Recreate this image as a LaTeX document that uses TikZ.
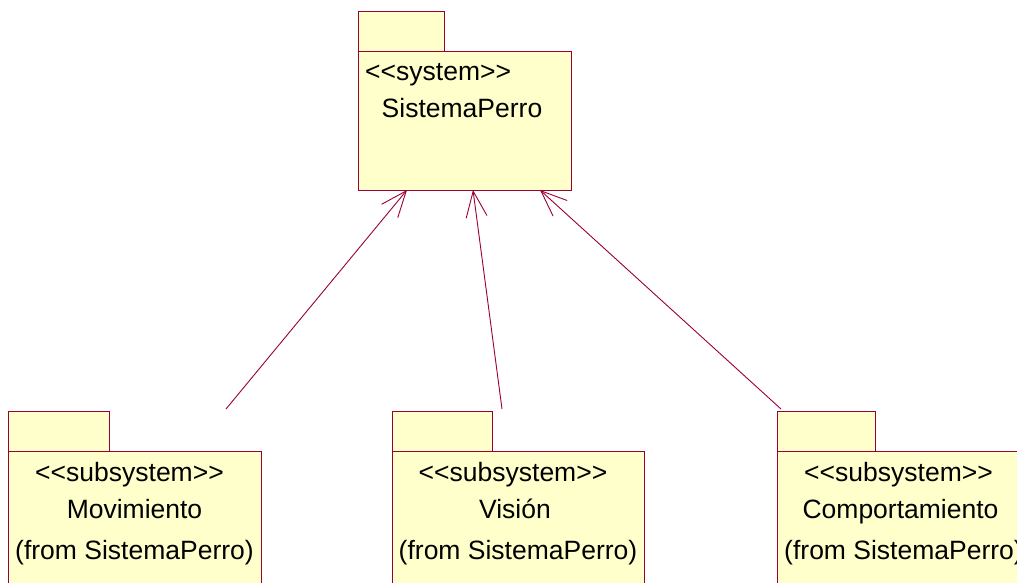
\documentclass[tikz,border=0pt]{standalone}
\usepackage{fontspec}
\setmainfont{Liberation Sans}
\usepackage{xcolor}
\usetikzlibrary{arrows.meta,positioning}
\definecolor{pkgline}{RGB}{153,0,51}
\definecolor{pkgfill}{RGB}{255,255,204}

\begin{document}
\begin{tikzpicture}[
  x=1pt,y=-1pt,
  pkg/.style={draw=pkgline,fill=pkgfill,line width=1pt,inner sep=0pt,outer sep=0pt},
  pkgtab/.style={pkg,anchor=south west,minimum height=40pt},
  lbl/.style={font=\fontsize{26.5}{32}\selectfont,inner sep=0pt,anchor=base},
  dep/.style={-{Straight Barb[length=26pt,width=21pt]},line width=0.9pt,draw=pkgline}
]
\useasboundingbox (0,0) rectangle (1017,583);

\node[pkg,minimum width=213pt,minimum height=138pt] (sys) at (464.5,121) {};
\node[pkgtab,minimum width=86pt] (systab) at (sys.north west) {};
\node[lbl,anchor=base west] (sysst) at ([shift={(7pt,-29pt)}]sys.north west) {<\kern0pt<system>\kern0pt>};
\node[lbl] (sysname) at ([shift={(-2.5pt,-66pt)}]sys.north) {SistemaPerro};

\node[pkg,minimum width=253pt,minimum height=138pt] (mov) at (134.5,520) {};
\node[pkgtab,minimum width=101pt] (movtab) at (mov.north west) {};
\node[lbl] (movst) at ([shift={(-5pt,-30pt)}]mov.north) {<\kern0pt<subsystem>\kern0pt>};
\node[lbl] (movname) at ([yshift=-67pt]mov.north) {Movimiento};
\node[lbl] (movfrom) at ([yshift=-108pt]mov.north) {(from SistemaPerro)};

\node[pkg,minimum width=252pt,minimum height=138pt] (vis) at (518,520) {};
\node[pkgtab,minimum width=100pt] (vistab) at (vis.north west) {};
\node[lbl] (visst) at ([shift={(-5pt,-30pt)}]vis.north) {<\kern0pt<subsystem>\kern0pt>};
\node[lbl] (visname) at ([shift={(-3pt,-67pt)}]vis.north) {Visión};
\node[lbl] (visfrom) at ([yshift=-108pt]vis.north) {(from SistemaPerro)};

\node[pkg,minimum width=253pt,minimum height=138pt] (comp) at (903.5,520) {};
\node[pkgtab,minimum width=98pt] (comptab) at (comp.north west) {};
\node[lbl] (compst) at ([shift={(-5pt,-30pt)}]comp.north) {<\kern0pt<subsystem>\kern0pt>};
\node[lbl] (compname) at ([shift={(-3pt,-67pt)}]comp.north) {Comportamiento};
\node[lbl] (compfrom) at ([yshift=-108pt]comp.north) {(from SistemaPerro)};

\coordinate (movend) at (226,409);
\coordinate (visend) at (502,409);
\coordinate (compend) at (781,409);
\draw[dep] (movend) -- ([xshift=49pt]sys.south west);
\draw[dep] (visend) -- ([xshift=115pt]sys.south west);
\draw[dep] (compend) -- ([xshift=182pt]sys.south west);

\end{tikzpicture}
\end{document}
